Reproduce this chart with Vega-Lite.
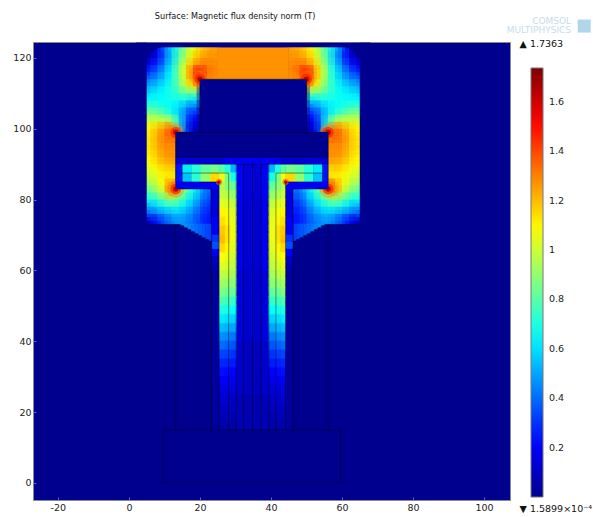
{"$schema":"https://vega.github.io/schema/vega-lite/v6.json","width":477,"height":458,"autosize":{"type":"none"},"padding":{"left":33,"top":42,"right":83,"bottom":17},"background":"white",
"title":{"text":"Surface: Magnetic flux density norm (T)","anchor":"start","dx":142,"offset":-4,"fontSize":8.1,"fontWeight":"normal","font":"DejaVu Sans","color":"#111"},
"config":{"view":{"fill":"#00008f","stroke":"#8a8a8a"},"font":"DejaVu Sans"},
"datasets":{
"grid":[
{"x":6,"y":122,"v":0.05},{"x":8,"y":122,"v":0.2},{"x":10,"y":122,"v":0.38},{"x":12,"y":122,"v":0.58},{"x":14,"y":122,"v":0.75},{"x":16,"y":122,"v":0.92},{"x":18,"y":122,"v":1.06},{"x":20,"y":122,"v":1.16},{"x":22,"y":122,"v":1.22},{"x":24,"y":122,"v":1.25},{"x":46,"y":122,"v":1.25},{"x":48,"y":122,"v":1.22},{"x":50,"y":122,"v":1.16},{"x":52,"y":122,"v":1.06},{"x":54,"y":122,"v":0.92},{"x":56,"y":122,"v":0.75},{"x":58,"y":122,"v":0.58},{"x":60,"y":122,"v":0.38},{"x":62,"y":122,"v":0.2},{"x":64,"y":122,"v":0.05},
{"x":6,"y":120,"v":0.08},{"x":8,"y":120,"v":0.18},{"x":10,"y":120,"v":0.35},{"x":12,"y":120,"v":0.55},{"x":14,"y":120,"v":0.75},{"x":16,"y":120,"v":0.95},{"x":18,"y":120,"v":1.12},{"x":20,"y":120,"v":1.22},{"x":22,"y":120,"v":1.26},{"x":24,"y":120,"v":1.27},{"x":46,"y":120,"v":1.27},{"x":48,"y":120,"v":1.26},{"x":50,"y":120,"v":1.22},{"x":52,"y":120,"v":1.12},{"x":54,"y":120,"v":0.95},{"x":56,"y":120,"v":0.75},{"x":58,"y":120,"v":0.55},{"x":60,"y":120,"v":0.35},{"x":62,"y":120,"v":0.18},{"x":64,"y":120,"v":0.08},
{"x":6,"y":118,"v":0.18},{"x":8,"y":118,"v":0.28},{"x":10,"y":118,"v":0.42},{"x":12,"y":118,"v":0.6},{"x":14,"y":118,"v":0.8},{"x":16,"y":118,"v":1.02},{"x":18,"y":118,"v":1.2},{"x":20,"y":118,"v":1.3},{"x":22,"y":118,"v":1.3},{"x":24,"y":118,"v":1.28},{"x":46,"y":118,"v":1.28},{"x":48,"y":118,"v":1.3},{"x":50,"y":118,"v":1.3},{"x":52,"y":118,"v":1.2},{"x":54,"y":118,"v":1.02},{"x":56,"y":118,"v":0.8},{"x":58,"y":118,"v":0.6},{"x":60,"y":118,"v":0.42},{"x":62,"y":118,"v":0.28},{"x":64,"y":118,"v":0.18},
{"x":6,"y":116,"v":0.28},{"x":8,"y":116,"v":0.38},{"x":10,"y":116,"v":0.5},{"x":12,"y":116,"v":0.65},{"x":14,"y":116,"v":0.85},{"x":16,"y":116,"v":1.08},{"x":18,"y":116,"v":1.35},{"x":20,"y":116,"v":1.5},{"x":22,"y":116,"v":1.35},{"x":24,"y":116,"v":1.29},{"x":46,"y":116,"v":1.29},{"x":48,"y":116,"v":1.35},{"x":50,"y":116,"v":1.5},{"x":52,"y":116,"v":1.35},{"x":54,"y":116,"v":1.08},{"x":56,"y":116,"v":0.85},{"x":58,"y":116,"v":0.65},{"x":60,"y":116,"v":0.5},{"x":62,"y":116,"v":0.38},{"x":64,"y":116,"v":0.28},
{"x":6,"y":114,"v":0.4},{"x":8,"y":114,"v":0.46},{"x":10,"y":114,"v":0.55},{"x":12,"y":114,"v":0.67},{"x":14,"y":114,"v":0.82},{"x":16,"y":114,"v":1.05},{"x":18,"y":114,"v":1.3},{"x":20,"y":114,"v":1.55},{"x":22,"y":114,"v":1.3},{"x":24,"y":114,"v":1.27},{"x":46,"y":114,"v":1.27},{"x":48,"y":114,"v":1.3},{"x":50,"y":114,"v":1.55},{"x":52,"y":114,"v":1.3},{"x":54,"y":114,"v":1.05},{"x":56,"y":114,"v":0.82},{"x":58,"y":114,"v":0.67},{"x":60,"y":114,"v":0.55},{"x":62,"y":114,"v":0.46},{"x":64,"y":114,"v":0.4},
{"x":6,"y":112,"v":0.5},{"x":8,"y":112,"v":0.55},{"x":10,"y":112,"v":0.62},{"x":12,"y":112,"v":0.7},{"x":14,"y":112,"v":0.8},{"x":16,"y":112,"v":1.0},{"x":18,"y":112,"v":1.15},{"x":52,"y":112,"v":1.15},{"x":54,"y":112,"v":1.0},{"x":56,"y":112,"v":0.8},{"x":58,"y":112,"v":0.7},{"x":60,"y":112,"v":0.62},{"x":62,"y":112,"v":0.55},{"x":64,"y":112,"v":0.5},
{"x":6,"y":110,"v":0.58},{"x":8,"y":110,"v":0.62},{"x":10,"y":110,"v":0.65},{"x":12,"y":110,"v":0.7},{"x":14,"y":110,"v":0.75},{"x":16,"y":110,"v":0.85},{"x":18,"y":110,"v":0.85},{"x":52,"y":110,"v":0.85},{"x":54,"y":110,"v":0.85},{"x":56,"y":110,"v":0.75},{"x":58,"y":110,"v":0.7},{"x":60,"y":110,"v":0.65},{"x":62,"y":110,"v":0.62},{"x":64,"y":110,"v":0.58},
{"x":6,"y":108,"v":0.65},{"x":8,"y":108,"v":0.66},{"x":10,"y":108,"v":0.66},{"x":12,"y":108,"v":0.68},{"x":14,"y":108,"v":0.68},{"x":16,"y":108,"v":0.68},{"x":18,"y":108,"v":0.6},{"x":52,"y":108,"v":0.6},{"x":54,"y":108,"v":0.68},{"x":56,"y":108,"v":0.68},{"x":58,"y":108,"v":0.68},{"x":60,"y":108,"v":0.66},{"x":62,"y":108,"v":0.66},{"x":64,"y":108,"v":0.65},
{"x":6,"y":106,"v":0.75},{"x":8,"y":106,"v":0.72},{"x":10,"y":106,"v":0.68},{"x":12,"y":106,"v":0.65},{"x":14,"y":106,"v":0.6},{"x":16,"y":106,"v":0.52},{"x":18,"y":106,"v":0.42},{"x":52,"y":106,"v":0.42},{"x":54,"y":106,"v":0.52},{"x":56,"y":106,"v":0.6},{"x":58,"y":106,"v":0.65},{"x":60,"y":106,"v":0.68},{"x":62,"y":106,"v":0.72},{"x":64,"y":106,"v":0.75},
{"x":6,"y":104,"v":0.88},{"x":8,"y":104,"v":0.85},{"x":10,"y":104,"v":0.78},{"x":12,"y":104,"v":0.7},{"x":14,"y":104,"v":0.58},{"x":16,"y":104,"v":0.42},{"x":18,"y":104,"v":0.28},{"x":52,"y":104,"v":0.28},{"x":54,"y":104,"v":0.42},{"x":56,"y":104,"v":0.58},{"x":58,"y":104,"v":0.7},{"x":60,"y":104,"v":0.78},{"x":62,"y":104,"v":0.85},{"x":64,"y":104,"v":0.88},
{"x":6,"y":102,"v":1.0},{"x":8,"y":102,"v":1.0},{"x":10,"y":102,"v":1.0},{"x":12,"y":102,"v":0.95},{"x":14,"y":102,"v":0.72},{"x":16,"y":102,"v":0.4},{"x":18,"y":102,"v":0.18},{"x":52,"y":102,"v":0.18},{"x":54,"y":102,"v":0.4},{"x":56,"y":102,"v":0.72},{"x":58,"y":102,"v":0.95},{"x":60,"y":102,"v":1.0},{"x":62,"y":102,"v":1.0},{"x":64,"y":102,"v":1.0},
{"x":6,"y":100,"v":1.1},{"x":8,"y":100,"v":1.18},{"x":10,"y":100,"v":1.25},{"x":12,"y":100,"v":1.35},{"x":14,"y":100,"v":0.75},{"x":16,"y":100,"v":0.35},{"x":18,"y":100,"v":0.12},{"x":52,"y":100,"v":0.12},{"x":54,"y":100,"v":0.35},{"x":56,"y":100,"v":0.75},{"x":58,"y":100,"v":1.35},{"x":60,"y":100,"v":1.25},{"x":62,"y":100,"v":1.18},{"x":64,"y":100,"v":1.1},
{"x":6,"y":98,"v":1.12},{"x":8,"y":98,"v":1.22},{"x":10,"y":98,"v":1.3},{"x":12,"y":98,"v":1.4},{"x":56,"y":98,"v":1.4},{"x":58,"y":98,"v":1.4},{"x":60,"y":98,"v":1.3},{"x":62,"y":98,"v":1.22},{"x":64,"y":98,"v":1.12},
{"x":6,"y":96,"v":1.13},{"x":8,"y":96,"v":1.22},{"x":10,"y":96,"v":1.3},{"x":12,"y":96,"v":1.3},{"x":56,"y":96,"v":1.3},{"x":58,"y":96,"v":1.3},{"x":60,"y":96,"v":1.3},{"x":62,"y":96,"v":1.22},{"x":64,"y":96,"v":1.13},
{"x":6,"y":94,"v":1.13},{"x":8,"y":94,"v":1.2},{"x":10,"y":94,"v":1.27},{"x":12,"y":94,"v":1.28},{"x":56,"y":94,"v":1.28},{"x":58,"y":94,"v":1.28},{"x":60,"y":94,"v":1.27},{"x":62,"y":94,"v":1.2},{"x":64,"y":94,"v":1.13},
{"x":6,"y":92,"v":1.1},{"x":8,"y":92,"v":1.18},{"x":10,"y":92,"v":1.25},{"x":12,"y":92,"v":1.27},{"x":56,"y":92,"v":1.27},{"x":58,"y":92,"v":1.27},{"x":60,"y":92,"v":1.25},{"x":62,"y":92,"v":1.18},{"x":64,"y":92,"v":1.1},
{"x":6,"y":90,"v":1.08},{"x":8,"y":90,"v":1.14},{"x":10,"y":90,"v":1.2},{"x":12,"y":90,"v":1.22},{"x":56,"y":90,"v":1.22},{"x":58,"y":90,"v":1.22},{"x":60,"y":90,"v":1.2},{"x":62,"y":90,"v":1.14},{"x":64,"y":90,"v":1.08},
{"x":6,"y":88,"v":1.02},{"x":8,"y":88,"v":1.08},{"x":10,"y":88,"v":1.14},{"x":12,"y":88,"v":1.15},{"x":56,"y":88,"v":1.15},{"x":58,"y":88,"v":1.15},{"x":60,"y":88,"v":1.14},{"x":62,"y":88,"v":1.08},{"x":64,"y":88,"v":1.02},
{"x":6,"y":86,"v":0.98},{"x":8,"y":86,"v":1.04},{"x":10,"y":86,"v":1.1},{"x":12,"y":86,"v":1.12},{"x":56,"y":86,"v":1.12},{"x":58,"y":86,"v":1.12},{"x":60,"y":86,"v":1.1},{"x":62,"y":86,"v":1.04},{"x":64,"y":86,"v":0.98},
{"x":6,"y":84,"v":0.9},{"x":8,"y":84,"v":1.0},{"x":10,"y":84,"v":1.1},{"x":12,"y":84,"v":1.35},{"x":56,"y":84,"v":1.35},{"x":58,"y":84,"v":1.35},{"x":60,"y":84,"v":1.1},{"x":62,"y":84,"v":1.0},{"x":64,"y":84,"v":0.9},
{"x":6,"y":82,"v":0.8},{"x":8,"y":82,"v":0.9},{"x":10,"y":82,"v":1.02},{"x":12,"y":82,"v":1.35},{"x":14,"y":82,"v":1.0},{"x":16,"y":82,"v":0.85},{"x":18,"y":82,"v":0.7},{"x":20,"y":82,"v":0.55},{"x":22,"y":82,"v":0.4},{"x":47,"y":82,"v":0.4},{"x":48,"y":82,"v":0.4},{"x":50,"y":82,"v":0.55},{"x":52,"y":82,"v":0.7},{"x":54,"y":82,"v":0.85},{"x":56,"y":82,"v":1.0},{"x":58,"y":82,"v":1.35},{"x":60,"y":82,"v":1.02},{"x":62,"y":82,"v":0.9},{"x":64,"y":82,"v":0.8},
{"x":6,"y":80,"v":0.68},{"x":8,"y":80,"v":0.75},{"x":10,"y":80,"v":0.85},{"x":12,"y":80,"v":0.95},{"x":14,"y":80,"v":0.85},{"x":16,"y":80,"v":0.72},{"x":18,"y":80,"v":0.6},{"x":20,"y":80,"v":0.48},{"x":22,"y":80,"v":0.35},{"x":47,"y":80,"v":0.35},{"x":48,"y":80,"v":0.35},{"x":50,"y":80,"v":0.48},{"x":52,"y":80,"v":0.6},{"x":54,"y":80,"v":0.72},{"x":56,"y":80,"v":0.85},{"x":58,"y":80,"v":0.95},{"x":60,"y":80,"v":0.85},{"x":62,"y":80,"v":0.75},{"x":64,"y":80,"v":0.68},
{"x":6,"y":78,"v":0.52},{"x":8,"y":78,"v":0.6},{"x":10,"y":78,"v":0.68},{"x":12,"y":78,"v":0.72},{"x":14,"y":78,"v":0.7},{"x":16,"y":78,"v":0.62},{"x":18,"y":78,"v":0.52},{"x":20,"y":78,"v":0.42},{"x":22,"y":78,"v":0.3},{"x":47,"y":78,"v":0.3},{"x":48,"y":78,"v":0.3},{"x":50,"y":78,"v":0.42},{"x":52,"y":78,"v":0.52},{"x":54,"y":78,"v":0.62},{"x":56,"y":78,"v":0.7},{"x":58,"y":78,"v":0.72},{"x":60,"y":78,"v":0.68},{"x":62,"y":78,"v":0.6},{"x":64,"y":78,"v":0.52},
{"x":6,"y":76,"v":0.38},{"x":8,"y":76,"v":0.45},{"x":10,"y":76,"v":0.5},{"x":12,"y":76,"v":0.55},{"x":14,"y":76,"v":0.58},{"x":16,"y":76,"v":0.52},{"x":18,"y":76,"v":0.45},{"x":20,"y":76,"v":0.36},{"x":22,"y":76,"v":0.27},{"x":47,"y":76,"v":0.27},{"x":48,"y":76,"v":0.27},{"x":50,"y":76,"v":0.36},{"x":52,"y":76,"v":0.45},{"x":54,"y":76,"v":0.52},{"x":56,"y":76,"v":0.58},{"x":58,"y":76,"v":0.55},{"x":60,"y":76,"v":0.5},{"x":62,"y":76,"v":0.45},{"x":64,"y":76,"v":0.38},
{"x":6,"y":74,"v":0.12},{"x":8,"y":74,"v":0.25},{"x":10,"y":74,"v":0.35},{"x":12,"y":74,"v":0.42},{"x":14,"y":74,"v":0.48},{"x":16,"y":74,"v":0.45},{"x":18,"y":74,"v":0.4},{"x":20,"y":74,"v":0.33},{"x":22,"y":74,"v":0.25},{"x":47,"y":74,"v":0.25},{"x":48,"y":74,"v":0.25},{"x":50,"y":74,"v":0.33},{"x":52,"y":74,"v":0.4},{"x":54,"y":74,"v":0.45},{"x":56,"y":74,"v":0.48},{"x":58,"y":74,"v":0.42},{"x":60,"y":74,"v":0.35},{"x":62,"y":74,"v":0.25},{"x":64,"y":74,"v":0.12}
],
"hots":[{"x":20,"y":114},{"x":50,"y":114},{"x":13.2,"y":99},{"x":56.1,"y":99},{"x":13.2,"y":83},{"x":56.1,"y":83}],
"hots2":[{"x":25.4,"y":85},{"x":44.1,"y":85}],
"rects":[
{"x":25,"x2":45,"y":113,"y2":123,"v":1.27},
{"x":2,"x2":5,"y":70,"y2":124.3,"v":0},{"x":65,"x2":68,"y":70,"y2":124.3,"v":0},{"x":2,"x2":68,"y":123,"y2":124.3,"v":0},{"x":2,"x2":68,"y":70,"y2":73,"v":0},
{"x":5,"x2":6,"y":120.2,"y2":123,"v":0},{"x":6,"x2":7,"y":121.6,"y2":123,"v":0},{"x":7,"x2":8,"y":122.3,"y2":123,"v":0},{"x":8,"x2":9,"y":122.8,"y2":123,"v":0},
{"x":64,"x2":65,"y":120.2,"y2":123,"v":0},{"x":63,"x2":64,"y":121.6,"y2":123,"v":0},{"x":62,"x2":63,"y":122.3,"y2":123,"v":0},{"x":61,"x2":62,"y":122.8,"y2":123,"v":0},
{"x":14.5,"x2":15.6,"y":72.7,"y2":73.2,"v":0.46},{"x":15.5,"x2":16.6,"y":72.1,"y2":73.2,"v":0.46},{"x":16.5,"x2":17.6,"y":71.6,"y2":73.2,"v":0.44},{"x":17.5,"x2":18.6,"y":71,"y2":73.2,"v":0.42},{"x":18.5,"x2":19.6,"y":70.4,"y2":73.2,"v":0.4},{"x":19.5,"x2":20.6,"y":69.9,"y2":73.2,"v":0.38},{"x":20.5,"x2":21.6,"y":69.3,"y2":73.2,"v":0.36},{"x":21.5,"x2":22.6,"y":68.8,"y2":73.2,"v":0.34},{"x":22.5,"x2":23.3,"y":68.3,"y2":73.2,"v":0.32},
{"x":46.3,"x2":47.2,"y":68.3,"y2":73.2,"v":0.32},{"x":47.1,"x2":48.2,"y":68.8,"y2":73.2,"v":0.34},{"x":48.1,"x2":49.2,"y":69.3,"y2":73.2,"v":0.36},{"x":49.1,"x2":50.2,"y":69.9,"y2":73.2,"v":0.38},{"x":50.1,"x2":51.2,"y":70.4,"y2":73.2,"v":0.4},{"x":51.1,"x2":52.2,"y":71,"y2":73.2,"v":0.42},{"x":52.1,"x2":53.2,"y":71.6,"y2":73.2,"v":0.44},{"x":53.1,"x2":54.2,"y":72.1,"y2":73.2,"v":0.46},{"x":54.1,"x2":55.1,"y":72.7,"y2":73.2,"v":0.46},
{"x":20,"x2":50,"y":99,"y2":114,"v":0},
{"x":13.2,"x2":56.1,"y":85,"y2":99,"v":0},
{"x":13.2,"x2":15.1,"y":85,"y2":90.1,"v":0.25},{"x":54.4,"x2":56.1,"y":85,"y2":90.1,"v":0.25},
{"x":13.2,"x2":23.1,"y":83,"y2":85.1,"v":0.2},{"x":46.1,"x2":56.1,"y":83,"y2":85.1,"v":0.2},
{"x":23,"x2":25.5,"y":83,"y2":85.1,"v":0.2},{"x":23,"x2":25.5,"y":75,"y2":83.1,"v":0.15},{"x":23.3,"x2":25.5,"y":70,"y2":75.1,"v":0.2},{"x":23.3,"x2":25.5,"y":68,"y2":70.1,"v":0.3},{"x":23.3,"x2":25.5,"y":66,"y2":68.1,"v":0.35},{"x":23.3,"x2":25.5,"y":64,"y2":66.1,"v":0.2},{"x":23.3,"x2":25.5,"y":62,"y2":64.1,"v":0.1},{"x":23.3,"x2":25.5,"y":60,"y2":62.1,"v":0.07},{"x":23.3,"x2":25.5,"y":15,"y2":60.1,"v":0.03},
{"x":44,"x2":46.2,"y":83,"y2":85.1,"v":0.2},{"x":44,"x2":46.2,"y":75,"y2":83.1,"v":0.15},{"x":44,"x2":46.2,"y":70,"y2":75.1,"v":0.2},{"x":44,"x2":46.2,"y":68,"y2":70.1,"v":0.3},{"x":44,"x2":46.2,"y":66,"y2":68.1,"v":0.35},{"x":44,"x2":46.2,"y":64,"y2":66.1,"v":0.2},{"x":44,"x2":46.2,"y":62,"y2":64.1,"v":0.1},{"x":44,"x2":46.2,"y":60,"y2":62.1,"v":0.07},{"x":44,"x2":46.2,"y":15,"y2":60.1,"v":0.03},
{"x":15,"x2":17.7,"y":87.4,"y2":90.1,"v":0.62},{"x":17.6,"x2":20.3,"y":87.4,"y2":90.1,"v":0.72},{"x":20.2,"x2":22.9,"y":87.4,"y2":90.1,"v":0.82},{"x":22.8,"x2":25.5,"y":87.4,"y2":90.1,"v":0.85},
{"x":15,"x2":17.7,"y":85,"y2":87.5,"v":0.55},{"x":17.6,"x2":20.3,"y":85,"y2":87.5,"v":0.72},{"x":20.2,"x2":22.9,"y":85,"y2":87.5,"v":0.9},{"x":22.8,"x2":25.5,"y":85,"y2":87.5,"v":1.15},
{"x":44,"x2":46.8,"y":87.4,"y2":90.1,"v":0.85},{"x":46.7,"x2":49.4,"y":87.4,"y2":90.1,"v":0.82},{"x":49.3,"x2":52,"y":87.4,"y2":90.1,"v":0.72},{"x":51.9,"x2":54.5,"y":87.4,"y2":90.1,"v":0.62},
{"x":44,"x2":46.8,"y":85,"y2":87.5,"v":1.15},{"x":46.7,"x2":49.4,"y":85,"y2":87.5,"v":0.9},{"x":49.3,"x2":52,"y":85,"y2":87.5,"v":0.72},{"x":51.9,"x2":54.5,"y":85,"y2":87.5,"v":0.55},
{"x":30.2,"x2":32.4,"y":15,"y2":25.1,"v":0.08},{"x":32.3,"x2":34.9,"y":15,"y2":25.1,"v":0.06},{"x":34.8,"x2":37.3,"y":15,"y2":25.1,"v":0.06},{"x":37.2,"x2":39.4,"y":15,"y2":25.1,"v":0.08},
{"x":30.2,"x2":32.4,"y":25,"y2":40.1,"v":0.12},{"x":32.3,"x2":34.9,"y":25,"y2":40.1,"v":0.09},{"x":34.8,"x2":37.3,"y":25,"y2":40.1,"v":0.09},{"x":37.2,"x2":39.4,"y":25,"y2":40.1,"v":0.12},
{"x":30.2,"x2":32.4,"y":40,"y2":60.1,"v":0.15},{"x":32.3,"x2":34.9,"y":40,"y2":60.1,"v":0.12},{"x":34.8,"x2":37.3,"y":40,"y2":60.1,"v":0.12},{"x":37.2,"x2":39.4,"y":40,"y2":60.1,"v":0.15},
{"x":30.2,"x2":32.4,"y":60,"y2":80.1,"v":0.18},{"x":32.3,"x2":34.9,"y":60,"y2":80.1,"v":0.13},{"x":34.8,"x2":37.3,"y":60,"y2":80.1,"v":0.13},{"x":37.2,"x2":39.4,"y":60,"y2":80.1,"v":0.18},
{"x":30.2,"x2":32.4,"y":80,"y2":90.1,"v":0.2},{"x":32.3,"x2":34.9,"y":80,"y2":90.1,"v":0.14},{"x":34.8,"x2":37.3,"y":80,"y2":90.1,"v":0.14},{"x":37.2,"x2":39.4,"y":80,"y2":90.1,"v":0.2}
],
"caps":[
{"x":13.2,"x2":56.1,"y":91.9,"y2":99,"v":0},
{"x":13.2,"x2":20.1,"y":90,"y2":92,"v":0.14},{"x":20,"x2":27.1,"y":90,"y2":92,"v":0.13},{"x":27,"x2":42.7,"y":90,"y2":92,"v":0.19},{"x":42.6,"x2":49.7,"y":90,"y2":92,"v":0.13},{"x":49.6,"x2":56.1,"y":90,"y2":92,"v":0.14}
],
"stems":[
{"y":15,"y2":17.8,"a":0.06,"b":0.06,"c":0.05},{"y":17.5,"y2":20.3,"a":0.08,"b":0.08,"c":0.07},{"y":20,"y2":22.8,"a":0.1,"b":0.1,"c":0.09},{"y":22.5,"y2":25.3,"a":0.13,"b":0.12,"c":0.11},{"y":25,"y2":27.8,"a":0.16,"b":0.15,"c":0.14},{"y":27.5,"y2":30.3,"a":0.2,"b":0.19,"c":0.18},{"y":30,"y2":32.8,"a":0.24,"b":0.23,"c":0.22},{"y":32.5,"y2":35.3,"a":0.28,"b":0.27,"c":0.26},{"y":35,"y2":37.8,"a":0.33,"b":0.32,"c":0.3},{"y":37.5,"y2":40.3,"a":0.4,"b":0.38,"c":0.36},{"y":40,"y2":42.8,"a":0.46,"b":0.45,"c":0.42},{"y":42.5,"y2":45.3,"a":0.54,"b":0.52,"c":0.5},{"y":45,"y2":47.8,"a":0.62,"b":0.6,"c":0.58},{"y":47.5,"y2":50.3,"a":0.7,"b":0.68,"c":0.66},{"y":50,"y2":52.8,"a":0.78,"b":0.76,"c":0.74},{"y":52.5,"y2":55.3,"a":0.86,"b":0.84,"c":0.82},{"y":55,"y2":57.8,"a":0.92,"b":0.9,"c":0.88},{"y":57.5,"y2":60.3,"a":0.98,"b":0.96,"c":0.93},{"y":60,"y2":62.8,"a":1.03,"b":1.01,"c":0.97},{"y":62.5,"y2":65.3,"a":1.08,"b":1.05,"c":1.0},{"y":65,"y2":67.8,"a":1.15,"b":1.1,"c":1.03},{"y":67.5,"y2":70.3,"a":1.2,"b":1.13,"c":1.05},{"y":70,"y2":72.8,"a":1.18,"b":1.13,"c":1.05},{"y":72.5,"y2":75.3,"a":1.14,"b":1.1,"c":1.04},{"y":75,"y2":77.8,"a":1.1,"b":1.07,"c":1.02},{"y":77.5,"y2":80.3,"a":1.04,"b":1.02,"c":0.98},{"y":80,"y2":82.8,"a":0.98,"b":0.95,"c":0.9},{"y":82.5,"y2":85.3,"a":0.95,"b":0.88,"c":0.82},{"y":85,"y2":87.8,"a":1.05,"b":0.85,"c":0.68},{"y":87.5,"y2":90.1,"a":0.8,"b":0.7,"c":0.52}
],
"colsL":[{"col":"a","x":25.4,"x2":27.15},{"col":"b","x":27,"x2":28.75},{"col":"c","x":28.6,"x2":30.3}],
"colsR":[{"col":"a","x":42.6,"x2":44.1},{"col":"b","x":41,"x2":42.75},{"col":"c","x":39.3,"x2":41.15}],
"lines":[
{"x":9.7,"x2":59.6,"y":0,"y2":0},{"x":9.7,"x2":59.6,"y":15,"y2":15},{"x":9.7,"x2":9.7,"y":0,"y2":15},{"x":59.6,"x2":59.6,"y":0,"y2":15},
{"x":13.2,"x2":13.2,"y":15,"y2":73},{"x":56.1,"x2":56.1,"y":15,"y2":73},{"x":13.2,"x2":13.2,"y":83,"y2":99},{"x":56.1,"x2":56.1,"y":83,"y2":99},
{"x":13.2,"x2":56.1,"y":99,"y2":99},{"x":13.2,"x2":56.1,"y":92,"y2":92},
{"x":20,"x2":20,"y":99,"y2":114},{"x":50,"x2":50,"y":99,"y2":114},{"x":20,"x2":50,"y":114,"y2":114},
{"x":23.3,"x2":23.3,"y":15,"y2":83},{"x":25.4,"x2":25.4,"y":15,"y2":85},{"x":28.1,"x2":28.1,"y":15,"y2":87.5},{"x":30.2,"x2":30.2,"y":15,"y2":90},{"x":32.3,"x2":32.3,"y":15,"y2":90},{"x":34.8,"x2":34.8,"y":15,"y2":90},{"x":37.2,"x2":37.2,"y":15,"y2":90},{"x":39.4,"x2":39.4,"y":15,"y2":90},{"x":41.4,"x2":41.4,"y":15,"y2":87.5},{"x":44.1,"x2":44.1,"y":15,"y2":85},{"x":46.2,"x2":46.2,"y":15,"y2":83},
{"x":15,"x2":54.5,"y":90,"y2":90},{"x":15,"x2":28.1,"y":87.5,"y2":87.5},{"x":41.4,"x2":54.5,"y":87.5,"y2":87.5},{"x":15,"x2":25.4,"y":85,"y2":85},{"x":44.1,"x2":54.5,"y":85,"y2":85},{"x":15,"x2":15,"y":85,"y2":90},{"x":54.5,"x2":54.5,"y":85,"y2":90},{"x":13.2,"x2":23.3,"y":83,"y2":83},{"x":46.2,"x2":56.1,"y":83,"y2":83},
{"x":14.4,"x2":23.3,"y":73,"y2":68},{"x":55.3,"x2":46.2,"y":73,"y2":68},{"x":5,"x2":14.4,"y":73,"y2":73},{"x":55.3,"x2":65,"y":73,"y2":73}
],
"labels":[
{"x":110,"y":124,"t":"▲ 1.7363"},{"x":110,"y":-7.2,"t":"▼ 1.5899×10⁻⁴"}
],
"logo":[
{"x":124.5,"y":130.5,"t":"COMSOL"},{"x":124.5,"y":128,"t":"MULTIPHYSICS"}
],
"cube":[{"x":128.2,"y":129}]
},
"layer":[
{"data":{"name":"grid"},"mark":{"type":"rect","width":7.5,"height":7.5},"encoding":{
"x":{"field":"x","type":"quantitative","scale":{"domain":[-27,107.3],"nice":false,"zero":false},"axis":{"title":null,"grid":false,"values":[-20,-10,0,10,20,30,40,50,60,70,80,90,100],"tickSize":-3,"tickColor":"#5a6aaa","domain":false,"labelFontSize":9.5,"labelColor":"#222","labelPadding":5,"labelFont":"DejaVu Sans","zindex":1,"labelExpr":"replace(datum.label,'−','-')"}},
"y":{"field":"y","type":"quantitative","scale":{"domain":[-4.8,124.5],"nice":false,"zero":false},"axis":{"title":null,"grid":false,"values":[0,10,20,30,40,50,60,70,80,90,100,110,120],"tickSize":-3,"tickColor":"#5a6aaa","domain":false,"labelFontSize":9.5,"labelColor":"#222","labelPadding":5,"labelFont":"DejaVu Sans","zindex":1}},
"color":{"field":"v","type":"quantitative","scale":{"domain":[0,0.217,0.651,1.085,1.519,1.7363],"range":["#00008f","#0000ff","#00ffff","#ffff00","#ff0000","#800000"],"interpolate":"rgb"},"legend":{"type":"gradient","orient":"none","legendX":498,"legendY":26,"title":null,"gradientLength":429,"gradientThickness":12,"values":[0.2,0.4,0.6,0.8,1,1.2,1.4,1.6],"format":".2~f","labelFontSize":9.5,"labelColor":"#222","labelOffset":6,"labelFont":"DejaVu Sans","gradientStrokeColor":"#777","gradientStrokeWidth":1,"labelOverlap":false}}
}},
{"data":{"name":"grid"},"mark":{"type":"rect","width":14,"height":14,"opacity":0.35},"encoding":{
"x":{"field":"x","type":"quantitative"},"y":{"field":"y","type":"quantitative"},"color":{"field":"v","type":"quantitative","legend":null}
}},
{"data":{"name":"hots"},"mark":{"type":"point","shape":"circle","filled":true,"size":300,"opacity":0.4,"color":"#ff8000"},"encoding":{"x":{"field":"x","type":"quantitative"},"y":{"field":"y","type":"quantitative"}}},
{"data":{"name":"hots"},"mark":{"type":"point","shape":"circle","filled":true,"size":120,"opacity":0.7,"color":"#ff2000"},"encoding":{"x":{"field":"x","type":"quantitative"},"y":{"field":"y","type":"quantitative"}}},
{"data":{"name":"hots"},"mark":{"type":"point","shape":"circle","filled":true,"size":30,"opacity":0.9,"color":"#c00000"},"encoding":{"x":{"field":"x","type":"quantitative"},"y":{"field":"y","type":"quantitative"}}},
{"data":{"name":"rects"},"mark":{"type":"rect"},"encoding":{
"x":{"field":"x","type":"quantitative"},"x2":{"field":"x2"},"y":{"field":"y","type":"quantitative"},"y2":{"field":"y2"},
"color":{"field":"v","type":"quantitative","legend":null}
}},
{"data":{"name":"stems"},"transform":[{"fold":["a","b","c"],"as":["col","v"]},{"lookup":"col","from":{"data":{"name":"colsL"},"key":"col","fields":["x","x2"]}}],"mark":{"type":"rect"},"encoding":{
"x":{"field":"x","type":"quantitative"},"x2":{"field":"x2"},"y":{"field":"y","type":"quantitative"},"y2":{"field":"y2"},"color":{"field":"v","type":"quantitative","legend":null}
}},
{"data":{"name":"stems"},"transform":[{"fold":["a","b","c"],"as":["col","v"]},{"lookup":"col","from":{"data":{"name":"colsR"},"key":"col","fields":["x","x2"]}}],"mark":{"type":"rect"},"encoding":{
"x":{"field":"x","type":"quantitative"},"x2":{"field":"x2"},"y":{"field":"y","type":"quantitative"},"y2":{"field":"y2"},"color":{"field":"v","type":"quantitative","legend":null}
}},
{"data":{"name":"stems"},"transform":[{"fold":["a","b","c"],"as":["col","v"]},{"lookup":"col","from":{"data":{"name":"colsL"},"key":"col","fields":["x","x2"]}}],"mark":{"type":"rect","yOffset":-4.4,"opacity":0.5},"encoding":{
"x":{"field":"x","type":"quantitative"},"x2":{"field":"x2"},"y":{"field":"y","type":"quantitative"},"y2":{"field":"y2"},"color":{"field":"v","type":"quantitative","legend":null}
}},
{"data":{"name":"stems"},"transform":[{"fold":["a","b","c"],"as":["col","v"]},{"lookup":"col","from":{"data":{"name":"colsR"},"key":"col","fields":["x","x2"]}}],"mark":{"type":"rect","yOffset":-4.4,"opacity":0.5},"encoding":{
"x":{"field":"x","type":"quantitative"},"x2":{"field":"x2"},"y":{"field":"y","type":"quantitative"},"y2":{"field":"y2"},"color":{"field":"v","type":"quantitative","legend":null}
}},
{"data":{"name":"caps"},"mark":{"type":"rect"},"encoding":{
"x":{"field":"x","type":"quantitative"},"x2":{"field":"x2"},"y":{"field":"y","type":"quantitative"},"y2":{"field":"y2"},"color":{"field":"v","type":"quantitative","legend":null}
}},
{"data":{"name":"hots2"},"mark":{"type":"point","shape":"circle","filled":true,"size":40,"opacity":0.6,"color":"#ff6000"},"encoding":{"x":{"field":"x","type":"quantitative"},"y":{"field":"y","type":"quantitative"}}},
{"data":{"name":"hots2"},"mark":{"type":"point","shape":"circle","filled":true,"size":12,"opacity":0.9,"color":"#e00000"},"encoding":{"x":{"field":"x","type":"quantitative"},"y":{"field":"y","type":"quantitative"}}},
{"data":{"name":"lines"},"mark":{"type":"rule","color":"#000000","opacity":0.55,"strokeWidth":0.8},"encoding":{
"x":{"field":"x","type":"quantitative"},"x2":{"field":"x2"},"y":{"field":"y","type":"quantitative"},"y2":{"field":"y2"}
}},
{"data":{"name":"labels"},"mark":{"type":"text","align":"left","baseline":"middle","fontSize":9.5,"color":"#111","font":"DejaVu Sans"},"encoding":{
"x":{"field":"x","type":"quantitative"},"y":{"field":"y","type":"quantitative"},"text":{"field":"t"}
}},
{"data":{"name":"logo"},"mark":{"type":"text","align":"right","baseline":"middle","fontSize":9,"color":"#c6dcec","font":"DejaVu Sans"},"encoding":{
"x":{"field":"x","type":"quantitative"},"y":{"field":"y","type":"quantitative"},"text":{"field":"t"}
}},
{"data":{"name":"cube"},"mark":{"type":"point","shape":"square","filled":true,"size":170,"color":"#a8d2e8","opacity":0.9},"encoding":{
"x":{"field":"x","type":"quantitative"},"y":{"field":"y","type":"quantitative"}
}}
]}
